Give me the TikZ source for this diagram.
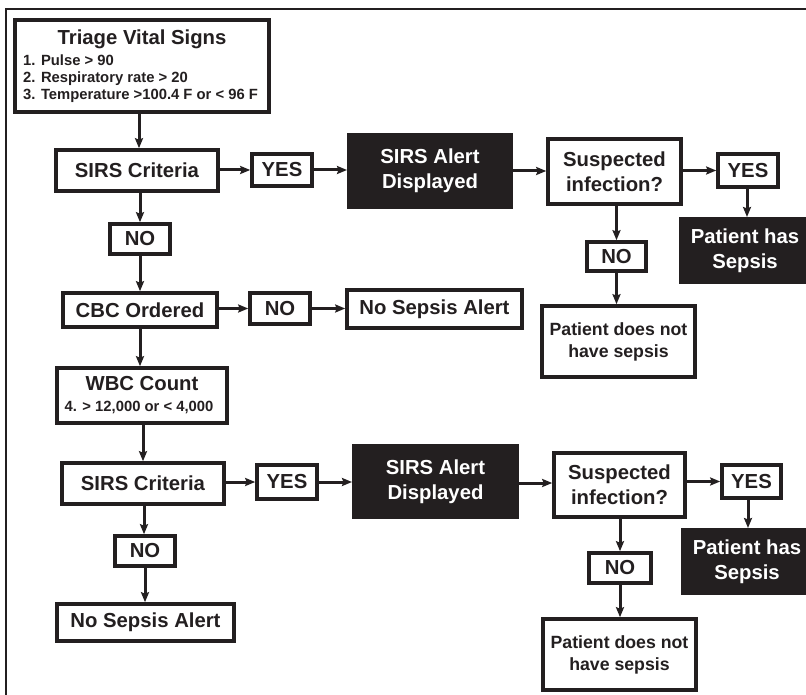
\documentclass[tikz,border=0pt]{standalone}
\usepackage{fontspec}
\setmainfont{Liberation Sans}
\usetikzlibrary{arrows.meta}
\definecolor{ink}{HTML}{231F20}
\newcommand\bigf{\fontsize{20.3}{25}\selectfont\bfseries}
\newcommand\midf{\fontsize{17.7}{22}\selectfont\bfseries}
\newcommand\smlf{\fontsize{14.8}{17.3}\selectfont\bfseries}
\begin{document}
\begin{tikzpicture}[x=1pt,y=-1pt,
  box/.style={draw=ink, line width=3.6pt, fill=white, inner sep=0pt, align=center, text=ink, font=\bigf},
  dbox/.style={draw=ink, line width=3pt, fill=ink, inner sep=0pt, align=center, text=white, font=\bigf},
  txt/.style={text=ink, inner sep=0pt},
  arr/.style={draw=ink, line width=3pt, -{Stealth[length=10pt,width=8pt,inset=1.5pt]}}]
\useasboundingbox (0,0) rectangle (806,695);
\fill[white] (0,0) rectangle (806,695);
\draw[ink, line width=2pt] (6,720) -- (6,9) -- (830,9);

% left column
\node[box, minimum width=254pt, minimum height=92pt] (triage) at (142,66) {};
\node[txt, font=\bigf, anchor=base] (ttitle) at (142,44.3) {Triage Vital Signs};
\node[txt, font=\smlf, anchor=base west] (t1) at (23,65.5) {1. Pulse > 90};
\node[txt, font=\smlf, anchor=base west] (t2) at (23,82.8) {2. Respiratory rate > 20};
\node[txt, font=\smlf, anchor=base west] (t3) at (23,100) {3. Temperature >100.4 F or < 96 F};

\node[box, minimum width=162pt, minimum height=41pt] (sirs1) at (137,170.5) {SIRS Criteria};
\node[box, minimum width=60pt, minimum height=30pt] (no1) at (140,239) {NO};
\node[box, minimum width=154pt, minimum height=34pt] (cbc) at (140,310) {CBC Ordered};
\node[box, minimum width=170pt, minimum height=55pt] (wbc) at (142,395.5) {};
\node[txt, font=\bigf, anchor=base] (wtitle) at (142,390.7) {WBC Count};
\node[txt, font=\smlf, anchor=base] (wsub) at (139,411) {4. > 12,000 or < 4,000};
\node[box, minimum width=162pt, minimum height=41pt] (sirs2) at (143,483.5) {SIRS Criteria};
\node[box, minimum width=60pt, minimum height=30pt] (no2) at (145,551) {NO};
\node[box, minimum width=177pt, minimum height=37pt] (nosepB) at (145.5,622.5) {No Sepsis Alert};

% row 1
\node[box, minimum width=60pt, minimum height=32pt] (yes1) at (282,170) {YES};
\node[dbox, minimum width=163pt, minimum height=73pt] (alert1) at (430,171) {SIRS Alert\\Displayed};
\node[box, minimum width=133pt, minimum height=65pt] (susp1) at (614.5,171.5) {Suspected\\infection?};
\node[box, minimum width=60pt, minimum height=33pt] (yesR1) at (748,170.5) {YES};
\node[dbox, minimum width=130pt, minimum height=64pt] (sepsis1) at (745,250.5) {Patient has\\Sepsis};
\node[box, minimum width=59pt, minimum height=29pt] (noS1) at (616.5,256.5) {NO};
\node[box, font=\midf, minimum width=153pt, minimum height=71pt] (nothave1) at (618.5,341.5) {Patient does not\\have sepsis};

% CBC row
\node[box, minimum width=60pt, minimum height=31pt] (noC) at (280,308.5) {NO};
\node[box, minimum width=175pt, minimum height=38pt] (nosepA) at (434.5,309) {No Sepsis Alert};

% row 2
\node[box, minimum width=60pt, minimum height=34pt] (yes2) at (287,482) {YES};
\node[dbox, minimum width=164pt, minimum height=72pt] (alert2) at (435.5,481.5) {SIRS Alert\\Displayed};
\node[box, minimum width=131pt, minimum height=64pt] (susp2) at (619.5,485) {Suspected\\infection?};
\node[box, minimum width=59pt, minimum height=33pt] (yesR2) at (751.5,481.5) {YES};
\node[dbox, minimum width=130pt, minimum height=64pt] (sepsis2) at (747,561.5) {Patient has\\Sepsis};
\node[box, minimum width=62pt, minimum height=30pt] (noS2) at (620,568) {NO};
\node[box, font=\midf, minimum width=153pt, minimum height=71pt] (nothave2) at (619.5,654.5) {Patient does not\\have sepsis};

% vertical arrows, left column
\draw[arr] (triage.south -| 139,0) -- (sirs1.north -| 139,0);
\draw[arr] (sirs1.south -| no1.north) -- (no1.north);
\draw[arr] (no1.south) -- (no1.south |- cbc.north);
\draw[arr] (cbc.south) -- (cbc.south |- wbc.north);
\draw[arr] (wbc.south -| sirs2.north) -- (sirs2.north);
\draw[arr] (sirs2.south -| 144,0) -- (no2.north -| 144,0);
\draw[arr] (no2.south) -- (no2.south |- nosepB.north);

% row 1
\draw[arr] (sirs1.east |- yes1.west) -- (yes1.west);
\draw[arr] (yes1.east) -- (yes1.east -| alert1.west);
\draw[arr] (alert1.east) -- (alert1.east -| susp1.west);
\draw[arr] (susp1.east |- yesR1.west) -- (yesR1.west);
\draw[arr] (yesR1.south -| 747,0) -- (sepsis1.north -| 747,0);
\draw[arr] (susp1.south -| noS1.north) -- (noS1.north);
\draw[arr] (noS1.south) -- (noS1.south |- nothave1.north);

% CBC row
\draw[arr] (cbc.east |- noC.west) -- (noC.west);
\draw[arr] (noC.east) -- (noC.east -| nosepA.west);

% row 2
\draw[arr] (sirs2.east |- yes2.west) -- (yes2.west);
\draw[arr] (yes2.east) -- (yes2.east -| alert2.west);
\draw[arr] (alert2.east |- 0,483) -- (susp2.west |- 0,483);
\draw[arr] (susp2.east |- yesR2.west) -- (yesR2.west);
\draw[arr] (yesR2.south -| 748,0) -- (sepsis2.north -| 748,0);
\draw[arr] (susp2.south -| noS2.north) -- (noS2.north);
\draw[arr] (noS2.south) -- (noS2.south |- nothave2.north);
\end{tikzpicture}
\end{document}
